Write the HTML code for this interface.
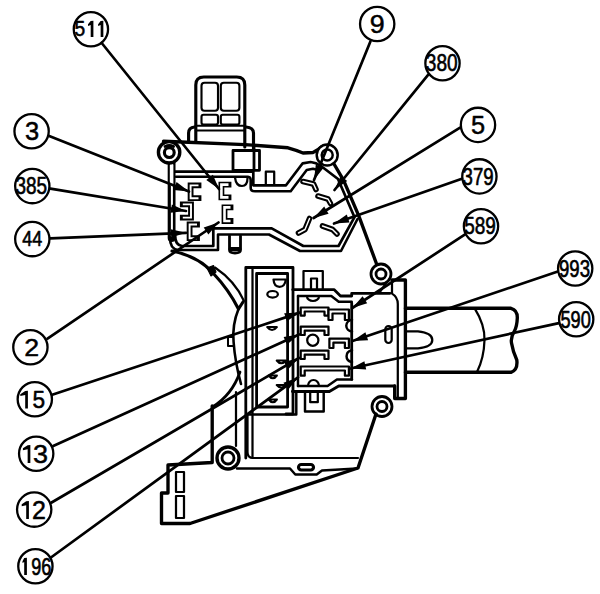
<!DOCTYPE html>
<html><head><meta charset="utf-8"><style>
html,body{margin:0;padding:0;background:#fff;}
svg{display:block;}
text{font-family:"Liberation Sans",sans-serif;fill:#000;}
</style></head><body>
<svg width="600" height="594" viewBox="0 0 600 594">
<g fill="none" stroke="#000" stroke-linecap="round" stroke-linejoin="round">
<!-- connector plug -->
<path d="M195.8,142 V85 Q195.8,77 203.8,77 H236.8 Q244.8,77 244.8,85 V147" stroke-width="3.14"/>
<rect x="201.5" y="82.7" width="16.5" height="28" rx="3" stroke-width="2.13"/>
<rect x="220.8" y="82.7" width="18.6" height="28" rx="3" stroke-width="2.13"/>
<rect x="201.5" y="114.7" width="16.5" height="9.8" rx="2" stroke-width="2.13"/>
<rect x="220.8" y="114.7" width="18.6" height="9.8" rx="2" stroke-width="2.13"/>
<path d="M195.8,125.8 H244.8 M195.8,130.5 H244.8" stroke-width="2.13"/>
<path d="M188.6,141.5 V133 Q188.6,127.5 194.5,127 M253.5,149 V133 Q253.5,127.5 246,127" stroke-width="3.14"/>
<!-- upper plate top edge -->
<path d="M163.5,141.2 L245,144.6 L288,147.8 Q296,150 303,153 L313,152.5 Q318,150 321.7,146.7" stroke-width="3.36"/>
<path d="M233,150.5 H259.5 V170.3 H233 Z" stroke-width="2.80"/>
<path d="M254,146 V170" stroke-width="2.80"/>
<!-- inner double contour -->
<path d="M174.5,171.7 H253.3 V185.3 H286 L302.7,163.3 L310.7,162 Q316,162.5 321,166 L338,179 L354.5,217.2 L338.5,246 H303.3 L271.7,228.3 H213.3 V246 H181.9 Q175.2,245 175.2,236" stroke-width="2.69"/>
<path d="M176,176.8 H248 Q250.7,177 250.7,180 V188 Q250.7,191.3 255,191.3 H290.7 L306.7,170 L313,168.7 L318,170" stroke-width="2.58"/>
<path d="M357.5,219 L341,251 H300 L269,234.5 H218 V250 H178 Q170,249 170,238" stroke-width="2.58"/>
<path d="M265.8,185 V171.7 H274.2 V185" stroke-width="2.24"/>
<path d="M235,177.5 Q236,186 242,186 Q247.5,186 247.5,178" stroke-width="2.24"/>
<!-- left wall -->
<path d="M171.6,162 V238" stroke-width="7.84"/>
<path d="M171.6,165 V184" stroke="#fff" stroke-width="3.58"/><path d="M171.9,184 V236" stroke="#fff" stroke-width="2.02"/>
<!-- right edge -->
<path d="M334,164 L343.5,180.2 L358.7,215.6 L376.6,264" stroke-width="3.36"/>
<!-- rings -->
<circle cx="169.1" cy="152.3" r="10.7" stroke-width="3.36" fill="#fff"/>
<circle cx="169.3" cy="152.6" r="4.9" stroke-width="3.14"/><path d="M165,146.5 Q169.3,144.5 173.6,146.5" stroke-width="2.80"/>
<circle cx="327.2" cy="155" r="10.5" stroke-width="2.46" fill="#fff"/>
<circle cx="327.2" cy="155" r="5.5" stroke-width="2.46"/>
<circle cx="381" cy="274" r="10" stroke-width="2.80" fill="#fff"/>
<circle cx="381" cy="274" r="5" stroke-width="2.80"/>
<circle cx="382" cy="406.5" r="10" stroke-width="2.80" fill="#fff"/>
<circle cx="382" cy="406.5" r="5" stroke-width="2.80"/>
<circle cx="228" cy="458" r="11" stroke-width="3.36" fill="#fff"/>
<circle cx="228" cy="458" r="6" stroke-width="2.80"/>
<!-- terminals upper plate -->
<g stroke-width="5.82" stroke-linejoin="miter" stroke-linecap="square">
<polyline points="198.5,185.4 190.6,185.4 190.6,198.2 198.5,198.2"/>
<polyline points="182.8,204.4 191,204.4 191,217.6 182.8,217.6"/>
<polyline points="197,224.5 189.6,224.5 189.6,238.2 197,238.2"/>
<polyline points="228.5,184.6 221.4,184.6 221.4,197.4 228.5,197.4"/>
<polyline points="230.5,207.4 224.5,207.4 224.5,221 230.5,221"/>
</g>
<g stroke="#fff" stroke-width="1.90" stroke-linejoin="miter" stroke-linecap="butt">
<polyline points="198.5,185.4 190.6,185.4 190.6,198.2 198.5,198.2"/>
<polyline points="182.8,204.4 191,204.4 191,217.6 182.8,217.6"/>
<polyline points="197,224.5 189.6,224.5 189.6,238.2 197,238.2"/>
</g>
<g stroke="#fff" stroke-width="2.58" stroke-linejoin="miter" stroke-linecap="butt">
<polyline points="228.5,184.6 221.4,184.6 221.4,197.4 228.5,197.4"/>
<polyline points="230.5,207.4 224.5,207.4 224.5,221 230.5,221"/>
</g>
<g stroke-width="5.60"><polyline points="303,181.5 313.5,184 316,189.5"/><polyline points="318,196 328,199 330.5,203.5"/><polyline points="309.5,218.5 305,229.5 298.5,233"/><polyline points="322.5,226 332.5,229.5 337,234"/></g>
<g stroke-width="1.46" stroke="#fff"><polyline points="303,181.5 313.5,184 316,189.5"/><polyline points="318,196 328,199 330.5,203.5"/><polyline points="309.5,218.5 305,229.5 298.5,233"/><polyline points="322.5,226 332.5,229.5 337,234"/></g>
<path d="M229.5,236 V250 Q229.5,253 235,253 Q240.5,253 240.5,250 V236" stroke-width="2.80"/>
<path d="M230.5,249 H239.5" stroke-width="3.92"/>
<!-- big arc band -->
<path d="M172,251 Q198,256 213,273 Q229,290 238.5,309 L243,302" stroke-width="3.14"/>
<path d="M215,267.5 Q235,281 244,301" stroke-width="2.13"/>
<path d="M207,268 L213.5,265.5 L216,272 L211,276 Z" fill="#000" stroke-width="1.12"/>
<path d="M238.5,309 Q232,325 233.6,342 Q235,362 241,384" stroke-width="2.58"/>
<path d="M240,372 Q232,395 212.4,407" stroke-width="2.80"/>
<path d="M233,337 H228 V346 H234" stroke-width="2.02"/>
<!-- tall connector -->
<path d="M245.8,458 V267.5 H293 V290" stroke-width="2.80"/>
<path d="M252.5,458 V268" stroke-width="2.24"/>
<path d="M256.6,407 V273.5 H287.6 V407 Z" stroke-width="2.80"/>
<path d="M248,414.4 H296.3 V391.5" stroke-width="2.46"/>
<path d="M273.5,279.5 H285.8 Q285,286.8 279.5,286.8 Q274,286.8 273.5,279.5 Z" stroke-width="2.24"/>
<ellipse cx="272.6" cy="294.3" rx="5.3" ry="3.3" stroke-width="2.24"/>
<path d="M267.3,327 Q272,333 276.8,327 Z M276.8,360.5 Q281,366 286,360.5 Z M268.7,375.5 Q273,381 276.8,375.5 Z M276.8,385 Q281,390 286,385 Z M268.7,399.5 Q273,405 276.8,399.5 Z" stroke-width="2.24"/>
<!-- terminal block -->
<path d="M293,289.6 H334 L340.5,296 H351.7 V293.3 H390" stroke-width="2.80"/>
<path d="M298,296 H331.3 L338.7,301.7 H351.7" stroke-width="2.46"/>
<path d="M307,296.5 A6,4.5 0 0 0 319,296.5" stroke-width="2.24"/>
<path d="M293,289.6 V414 H286" stroke-width="2.80"/>
<path d="M298,296 V386" stroke-width="2.46"/>
<path d="M351.7,303 V379.4" stroke-width="2.80"/>
<rect x="303.5" y="271" width="19.3" height="19" stroke-width="2.24"/>
<rect x="311" y="278.5" width="6" height="11.5" stroke-width="2.24"/>
<g fill="#fff" stroke-width="2.24">
<path d="M300.7,315.6 V307.5 H328.5 V315.6 H324.5 V311.5 H304.7 V315.6 Z"/>
<path d="M328.5,320 V309.5 H348.9 V320 H344.9 V313.5 H332.5 V320 Z"/>
<path d="M300.7,335 V326.7 H328.5 V335 H324.5 V330.7 H304.7 V335 Z"/>
<path d="M329.4,348 V338.7 H348.9 V348 H344.9 V342.7 H333.4 V348 Z"/>
<path d="M300.7,359 V350.7 H328.5 V359 H324.5 V354.7 H304.7 V359 Z"/>
<path d="M300.7,375.7 V366.5 H348.9 V375.7 H344.9 V370.5 H304.7 V375.7 Z"/>
</g>
<circle cx="312.8" cy="340.2" r="5.6" stroke-width="2.24"/>
<path d="M352,319.8 A7,6 0 0 0 352,331.6 M352,350.3 A7,6 0 0 0 352,362" stroke-width="2.46"/>
<!-- bottom contour -->
<path d="M292.4,391.5 H329.4 L338.7,386 H394.7" stroke-width="2.80"/>
<path d="M298,386 H327.6 L336.9,379.4 H352" stroke-width="2.46"/>
<path d="M308,386 A5.5,6 0 0 1 319,386" stroke-width="2.24"/>
<path d="M305,391.5 V411.4 H323.7 V391.5" stroke-width="2.46"/>
<path d="M310.2,392 V402.2 H317.8 V392" stroke-width="2.24"/>
<!-- shaft housing -->
<path d="M392,280 H405.4 V398.5 H394.7 V386" stroke-width="3.36"/>
<path d="M392,280 V293.6 Q397.8,297 397.8,304 V398" stroke-width="2.24"/>
<path d="M386,283 L380,292" stroke-width="2.24"/>
<!-- shaft -->
<path d="M405.4,308.3 H511 Q517.5,310 517.3,318 Q517,326 514.5,331 Q510.5,337 511.5,343 Q513,352 516.8,360 Q518,370 511,372.3 H405.4" stroke-width="3.36"/>
<path d="M474.8,308.6 Q485,325 484.5,340 Q484,358 477,372" stroke-width="2.24"/>
<path d="M405.4,331.4 H418 Q432.3,333 432.3,340 Q432.3,347 418,348.3 H405.4" stroke-width="2.24"/>
<rect x="385.3" y="326" width="6.4" height="17" rx="3.2" stroke-width="2.24"/>
<!-- lower housing -->
<path d="M212.2,406 V462.5 L168,465 V493 H161.5 V523.5 H190 L358,468 L376,414" stroke-width="3.36"/>
<path d="M237,468.5 H290 L295.3,474.5 H316.7 L322,470.5 L357,468.5" stroke-width="2.46"/>

<path d="M247.5,414 V452 Q247.5,458 253,458 H358" stroke-width="2.24"/>
<path d="M236,392 V446" stroke-width="2.24"/>
<rect x="298.5" y="464.5" width="15" height="5.5" rx="2.7" stroke-width="3.14"/>
<rect x="176" y="472" width="8" height="20" stroke-width="2.24"/>
<rect x="176" y="496" width="8" height="22" stroke-width="2.24"/>

<circle cx="90.9" cy="29.2" r="17.15" fill="#fff" stroke="#000" stroke-width="2.3"/>
<text transform="translate(74.6,36.3) scale(0.871,1)" font-size="22.06" stroke="#000" stroke-width="0.57">5</text>
<path d="M93.40,20.8 V36.9 H90.70 V25.10 L88.0,26.10 V24.20 L90.70,21.10 Z" fill="#000" stroke="none"/>
<path d="M103.35,20.8 V36.9 H100.65 V25.10 L98.1,26.10 V24.20 L100.65,21.10 Z" fill="#000" stroke="none"/>
<circle cx="377.2" cy="24" r="17.15" fill="#fff" stroke="#000" stroke-width="2.3"/>
<text transform="translate(369.8,33.0) scale(1.057,1)" font-size="25.37" stroke="#000" stroke-width="0.47">9</text>
<circle cx="442.5" cy="63.2" r="17.15" fill="#fff" stroke="#000" stroke-width="2.3"/>
<text transform="translate(425.8,71.4) scale(0.804,1)" font-size="23.73" stroke="#000" stroke-width="0.62">380</text>
<circle cx="478" cy="124.9" r="17.15" fill="#fff" stroke="#000" stroke-width="2.3"/>
<text transform="translate(471.05,134.0) scale(0.985,1)" font-size="25.74" stroke="#000" stroke-width="0.51">5</text>
<circle cx="31.6" cy="131.3" r="17.15" fill="#fff" stroke="#000" stroke-width="2.3"/>
<text transform="translate(25.05,140.0) scale(1.004,1)" font-size="25.37" stroke="#000" stroke-width="0.50">3</text>
<circle cx="479.4" cy="176.4" r="17.15" fill="#fff" stroke="#000" stroke-width="2.3"/>
<text transform="translate(462.6,184.8) scale(0.783,1)" font-size="23.73" stroke="#000" stroke-width="0.64">379</text>
<circle cx="32.3" cy="186.1" r="17.15" fill="#fff" stroke="#000" stroke-width="2.3"/>
<text transform="translate(15.4,194.05) scale(0.781,1)" font-size="24.28" stroke="#000" stroke-width="0.64">385</text>
<circle cx="481" cy="226.3" r="17.15" fill="#fff" stroke="#000" stroke-width="2.3"/>
<text transform="translate(464.2,234.4) scale(0.8,1)" font-size="23.73" stroke="#000" stroke-width="0.62">589</text>
<circle cx="32.3" cy="239.1" r="17.15" fill="#fff" stroke="#000" stroke-width="2.3"/>
<text transform="translate(22.35,246.45) scale(0.808,1)" font-size="22.24" stroke="#000" stroke-width="0.62">44</text>
<circle cx="575.2" cy="268.5" r="17.15" fill="#fff" stroke="#000" stroke-width="2.3"/>
<text transform="translate(559.0,277.25) scale(0.766,1)" font-size="24.28" stroke="#000" stroke-width="0.65">993</text>
<circle cx="576.2" cy="319.2" r="17.15" fill="#fff" stroke="#000" stroke-width="2.3"/>
<text transform="translate(560.4,327.5) scale(0.762,1)" font-size="23.87" stroke="#000" stroke-width="0.66">590</text>
<circle cx="30.4" cy="347.3" r="17.15" fill="#fff" stroke="#000" stroke-width="2.3"/>
<text transform="translate(24.2,355.85) scale(1.092,1)" font-size="24.49" stroke="#000" stroke-width="0.46">2</text>
<circle cx="34.8" cy="399.3" r="17.15" fill="#fff" stroke="#000" stroke-width="2.3"/>
<text transform="translate(32.45,408.05) scale(0.921,1)" font-size="24.63" stroke="#000" stroke-width="0.54">5</text>
<path d="M27.90,390.8 V408.5 H25.20 V395.10 L20.3,396.10 V394.20 L25.20,391.10 Z" fill="#000" stroke="none"/>
<circle cx="36.2" cy="453.8" r="17.15" fill="#fff" stroke="#000" stroke-width="2.3"/>
<text transform="translate(33.05,462.65) scale(1.08,1)" font-size="24.96" stroke="#000" stroke-width="0.46">3</text>
<path d="M30.35,444.9 V463.1 H27.65 V449.20 L22.9,450.20 V448.30 L27.65,445.20 Z" fill="#000" stroke="none"/>
<circle cx="34.2" cy="509.6" r="17.15" fill="#fff" stroke="#000" stroke-width="2.3"/>
<text transform="translate(32.0,518.9) scale(0.991,1)" font-size="25.32" stroke="#000" stroke-width="0.50">2</text>
<path d="M28.90,500.9 V519.1 H26.20 V505.20 L21.7,506.20 V504.30 L26.20,501.20 Z" fill="#000" stroke="none"/>
<circle cx="35.4" cy="566.2" r="17.15" fill="#fff" stroke="#000" stroke-width="2.3"/>
<text transform="translate(31.3,574.8) scale(0.763,1)" font-size="23.73" stroke="#000" stroke-width="0.66">96</text>
<path d="M26.90,557.8 V575.1 H24.20 V562.10 L22.5,563.10 V561.20 L24.20,558.10 Z" fill="#000" stroke="none"/>
<line x1="101.7" y1="43.0" x2="219" y2="189" stroke-width="2.7"/>
<polygon points="219,189 206.3,179.9 212.9,174.7" fill="#000" stroke="none"/>
<line x1="370.4" y1="41.6" x2="314" y2="180" stroke-width="2.7"/>
<polygon points="314,180 315.8,164.5 323.6,167.7" fill="#000" stroke="none"/>
<line x1="428.3" y1="74.6" x2="334.5" y2="190" stroke-width="2.7"/>
<polygon points="334.5,190 340.7,175.7 347.2,181.0" fill="#000" stroke="none"/>
<line x1="460.1" y1="127.7" x2="313.6" y2="218" stroke-width="2.7"/>
<polygon points="313.6,218 324.2,206.6 328.6,213.7" fill="#000" stroke="none"/>
<line x1="461.9" y1="178.7" x2="334" y2="223.5" stroke-width="2.7"/>
<polygon points="334,223.5 346.8,214.6 349.5,222.5" fill="#000" stroke="none"/>
<line x1="49.2" y1="136.1" x2="189" y2="191.5" stroke-width="2.7"/>
<polygon points="189,191.5 173.5,189.9 176.6,182.1" fill="#000" stroke="none"/>
<line x1="50.4" y1="188.6" x2="186" y2="211" stroke-width="2.7"/>
<polygon points="186,211 170.5,212.7 171.9,204.4" fill="#000" stroke="none"/>
<line x1="50.4" y1="238.3" x2="186" y2="232.8" stroke-width="2.7"/>
<polygon points="186,232.8 171.2,237.6 170.8,229.2" fill="#000" stroke="none"/>
<line x1="47.5" y1="338.6" x2="218.5" y2="222.5" stroke-width="2.7"/>
<polygon points="218.5,222.5 208.4,234.4 203.7,227.5" fill="#000" stroke="none"/>
<line x1="464.7" y1="234.7" x2="352.3" y2="308" stroke-width="2.7"/>
<polygon points="352.3,308 362.6,296.3 367.2,303.3" fill="#000" stroke="none"/>
<line x1="557.1" y1="271.7" x2="352.5" y2="341" stroke-width="2.7"/>
<polygon points="352.5,341 365.4,332.2 368.1,340.2" fill="#000" stroke="none"/>
<line x1="558.9" y1="323.1" x2="350.6" y2="368.5" stroke-width="2.7"/>
<polygon points="350.6,368.5 364.4,361.2 366.2,369.4" fill="#000" stroke="none"/>
<line x1="52.2" y1="394.8" x2="299.8" y2="312.6" stroke-width="2.7"/>
<polygon points="299.8,312.6 286.9,321.3 284.2,313.3" fill="#000" stroke="none"/>
<line x1="53.2" y1="446.1" x2="299" y2="334.5" stroke-width="2.7"/>
<polygon points="299,334.5 287.1,344.5 283.6,336.9" fill="#000" stroke="none"/>
<line x1="51.6" y1="502.5" x2="299" y2="358" stroke-width="2.7"/>
<polygon points="299,358 288.2,369.2 283.9,361.9" fill="#000" stroke="none"/>
<line x1="51.6" y1="557.0" x2="298" y2="377.4" stroke-width="2.7"/>
<polygon points="298,377.4 288.4,389.6 283.4,382.8" fill="#000" stroke="none"/>
</g>
</svg>
</body></html>
